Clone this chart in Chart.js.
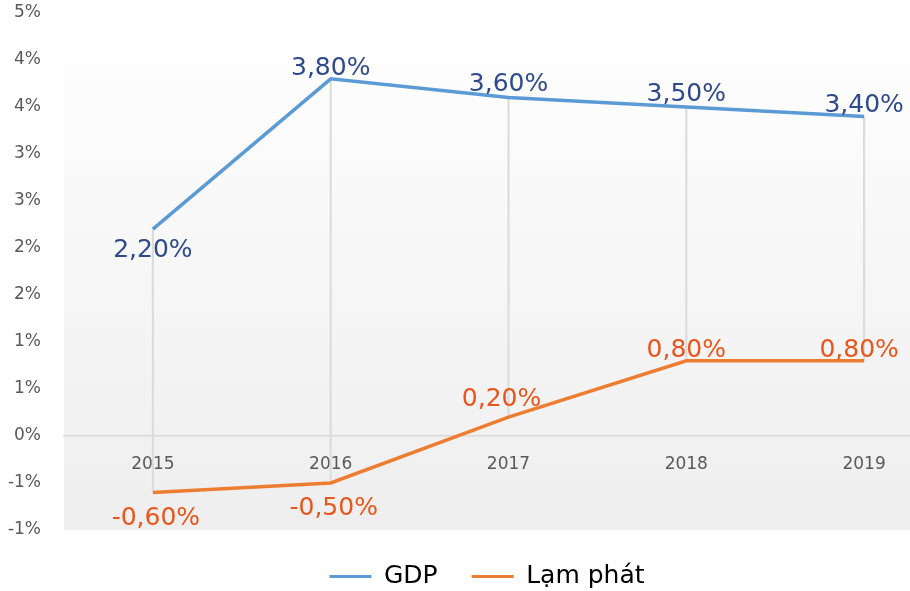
<!DOCTYPE html>
<html>
<head>
<meta charset="utf-8">
<script src="https://cdn.jsdelivr.net/npm/chart.js@4"></script>
<style>
	html, body { margin: 0; padding: 0; overflow: hidden; background: #fff; }
	#wrap { width: 910px; height: 591px; overflow: hidden; }
</style>
</head>
<body>
<div id="wrap">
	<canvas id="chart" width="975" height="591"></canvas>
</div>
<script>
const years = ['2015', '2016', '2017', '2018', '2019']
const gdp = [2.2, 3.8, 3.6, 3.5, 3.4]
const inflation = [-0.6, -0.5, 0.2, 0.8, 0.8]
const yTickLabels = ['-1%', '-1%', '0%', '1%', '1%', '2%', '2%', '3%', '3%', '4%', '4%', '5%']

const fontName = "'DejaVu Sans', sans-serif"

// label offsets from each point (px)
const labelStyles = [
	{ dataset: 0, color: '#2E4A8B', dx: [0, 0, 0, 0, 0], dy: [21, -10, -13, -13, -11] },
	{ dataset: 1, color: '#E8561C', dx: [3, 3, -7, 0, -5], dy: [26, 25, -18, -10, -10] },
]

function pct(v) {
	return v.toFixed(2).replace('.', ',') + '%'
}

const plotBackground = {
	id: 'plotBackground',
	beforeDraw(chart) {
		const { ctx, chartArea } = chart
		const g = ctx.createLinearGradient(0, chartArea.top, 0, chartArea.bottom)
		g.addColorStop(0, '#ffffff')
		g.addColorStop(1, '#eeeeee')
		ctx.save()
		ctx.fillStyle = g
		ctx.fillRect(chartArea.left, chartArea.top, chartArea.right - chartArea.left, chartArea.bottom - chartArea.top)
		ctx.restore()
	},
}

const valueLabels = {
	id: 'valueLabels',
	afterDatasetsDraw(chart) {
		const ctx = chart.ctx
		ctx.save()
		ctx.font = `25px ${fontName}`
		ctx.textAlign = 'center'
		ctx.textBaseline = 'middle'
		labelStyles.forEach((st) => {
			const meta = chart.getDatasetMeta(st.dataset)
			const values = chart.data.datasets[st.dataset].data
			ctx.fillStyle = st.color
			meta.data.forEach((pt, i) => {
				ctx.fillText(pct(values[i]), pt.x + st.dx[i], pt.y + st.dy[i])
			})
		})
		ctx.restore()
	},
}

const ctx = document.getElementById('chart').getContext('2d')
new Chart(ctx, {
	type: 'line',
	data: {
		labels: years,
		datasets: [
			{
				label: 'GDP',
				data: gdp,
				borderColor: '#5B9BD5',
				backgroundColor: '#5B9BD5',
				borderWidth: 3.5,
				pointRadius: 0,
				tension: 0,
				order: 1,
			},
			{
				label: 'Lạm phát',
				data: inflation,
				borderColor: '#ED7D31',
				backgroundColor: '#ED7D31',
				borderWidth: 3.5,
				pointRadius: 0,
				tension: 0,
				order: 2,
			},
			{
				// high-low lines between the two series
				type: 'bar',
				label: 'hilo',
				data: years.map((y, i) => [inflation[i], gdp[i]]),
				backgroundColor: '#dcdcdc',
				barThickness: 1.5,
				order: 3,
			},
		],
	},
	options: {
		responsive: false,
		animation: false,
		layout: {
			padding: { left: 0, right: 1, top: 13, bottom: -8 },
		},
		scales: {
			x: {
				type: 'category',
				position: { y: 0 },
				offset: true,
				grid: { display: false, drawTicks: false },
				border: { display: true, color: '#d9d9d9', width: 1.5 },
				ticks: {
					padding: 18,
					color: '#595959',
					font: { family: fontName, size: 17 },
				},
			},
			y: {
				min: -1,
				max: 4.5,
				afterFit(scale) {
					scale.width = 64
					scale.paddingTop = 0
					scale.paddingBottom = 0
				},
				grid: { display: false, drawTicks: false },
				border: { display: false },
				ticks: {
					stepSize: 0.5,
					padding: 23,
					color: '#595959',
					font: { family: fontName, size: 17 },
					callback: (value, index) => yTickLabels[index],
				},
			},
			// empty right axis, only to keep space at the right side
			yRight: {
				position: 'right',
				afterFit(scale) {
					scale.width = 21
					scale.paddingTop = 0
					scale.paddingBottom = 0
				},
				grid: { display: false, drawTicks: false },
				border: { display: false },
				ticks: { display: false },
			},
		},
		plugins: {
			tooltip: { enabled: false },
			legend: {
				position: 'bottom',
				labels: {
					color: '#000',
					boxWidth: 42,
					boxHeight: 3,
					padding: 34,
					font: { family: fontName, size: 25 },
					filter: (item) => item.datasetIndex < 2,
					generateLabels(chart) {
						return Chart.defaults.plugins.legend.labels.generateLabels(chart).map((item) => {
							item.lineWidth = 0
							item.fillStyle = item.strokeStyle
							return item
						})
					},
				},
			},
		},
	},
	plugins: [plotBackground, valueLabels],
})
</script>
</body>
</html>
